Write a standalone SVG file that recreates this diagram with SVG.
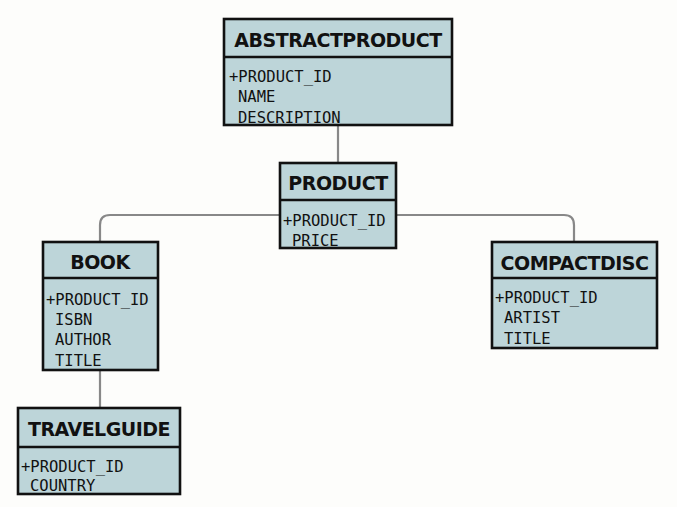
<svg xmlns="http://www.w3.org/2000/svg" width="677" height="507" viewBox="0 0 677 507">
<style>
.box{fill:#bdd5d9;stroke:#111;stroke-width:2.6}
.div{stroke:#111;stroke-width:2.4}
.hd{font-family:"DejaVu Sans",sans-serif;font-weight:bold;font-size:19px;letter-spacing:-0.5px;fill:#111;text-anchor:middle}
.at{font-family:"DejaVu Sans Mono",monospace;font-size:15.5px;fill:#111}
.con{fill:none;stroke:#888;stroke-width:2.2}
</style>
<rect width="677" height="507" fill="#fdfdfb"/>
<g id="connectors">
<path class="con" d="M338 126V162"/>
<path class="con" d="M280 215H110Q100 215 100 225V242"/>
<path class="con" d="M396 215H564Q574 215 574 225V242"/>
<path class="con" d="M100 370V408"/>
</g>
<g id="abstractproduct">
<rect class="box" x="224" y="19" width="228" height="106"/>
<line class="div" x1="224" y1="57" x2="452" y2="57"/>
<text class="hd" x="338" y="47">ABSTRACTPRODUCT</text>
<text class="at" x="229" y="82">+PRODUCT_ID</text>
<text class="at" x="238" y="102">NAME</text>
<text class="at" x="238" y="123">DESCRIPTION</text>
</g>
<g id="product">
<rect class="box" x="280" y="163" width="116" height="85"/>
<line class="div" x1="280" y1="200" x2="396" y2="200"/>
<text class="hd" x="338" y="190">PRODUCT</text>
<text class="at" x="283" y="226">+PRODUCT_ID</text>
<text class="at" x="292" y="246">PRICE</text>
</g>
<g id="book">
<rect class="box" x="43" y="242" width="115" height="128"/>
<line class="div" x1="43" y1="278" x2="158" y2="278"/>
<text class="hd" x="100" y="269">BOOK</text>
<text class="at" x="46" y="305">+PRODUCT_ID</text>
<text class="at" x="55" y="325">ISBN</text>
<text class="at" x="55" y="345">AUTHOR</text>
<text class="at" x="55" y="366">TITLE</text>
</g>
<g id="compactdisc">
<rect class="box" x="492" y="242" width="165" height="106"/>
<line class="div" x1="492" y1="278" x2="657" y2="278"/>
<text class="hd" x="574.5" y="270">COMPACTDISC</text>
<text class="at" x="495" y="303">+PRODUCT_ID</text>
<text class="at" x="504" y="323">ARTIST</text>
<text class="at" x="504" y="344">TITLE</text>
</g>
<g id="travelguide">
<rect class="box" x="18" y="408" width="162" height="86"/>
<line class="div" x1="18" y1="447" x2="180" y2="447"/>
<text class="hd" x="99" y="436">TRAVELGUIDE</text>
<text class="at" x="21" y="472">+PRODUCT_ID</text>
<text class="at" x="30" y="491">COUNTRY</text>
</g>
</svg>
